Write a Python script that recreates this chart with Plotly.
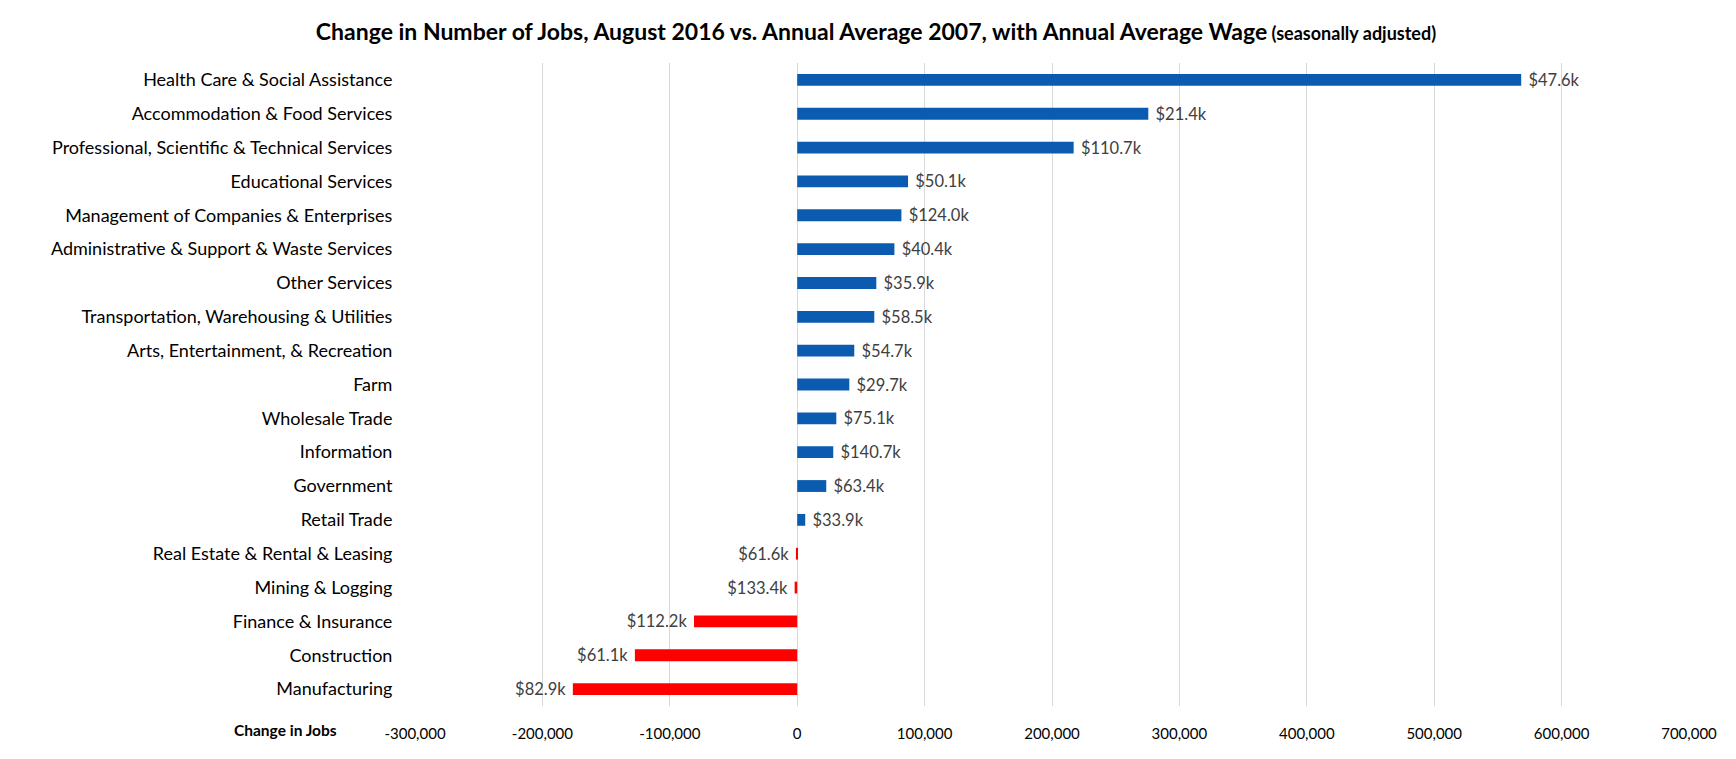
import plotly.graph_objects as go

categories = [
    "Health Care & Social Assistance",
    "Accommodation & Food Services",
    "Professional, Scientific & Technical Services",
    "Educational Services",
    "Management of Companies & Enterprises",
    "Administrative & Support & Waste Services",
    "Other Services",
    "Transportation, Warehousing & Utilities",
    "Arts, Entertainment, & Recreation",
    "Farm",
    "Wholesale Trade",
    "Information",
    "Government",
    "Retail Trade",
    "Real Estate & Rental & Leasing",
    "Mining & Logging",
    "Finance & Insurance",
    "Construction",
    "Manufacturing",
]
job_change = [568300, 275600, 217000, 87000, 81800, 76300, 62100, 60500, 44800,
              40900, 30700, 28300, 22800, 6300, -1000, -2000, -81000, -127400, -176100]
wage_labels = ["$47.6k", "$21.4k", "$110.7k", "$50.1k", "$124.0k", "$40.4k", "$35.9k",
               "$58.5k", "$54.7k", "$29.7k", "$75.1k", "$140.7k", "$63.4k", "$33.9k",
               "$61.6k", "$133.4k", "$112.2k", "$61.1k", "$82.9k"]
x_tickvals = [-300000, -200000, -100000, 0, 100000, 200000, 300000, 400000, 500000, 600000, 700000]
x_ticktext = ["-300,000", "-200,000", "-100,000", "0", "100,000", "200,000", "300,000",
              "400,000", "500,000", "600,000", "700,000"]

colors = ["#0B5CB0" if v >= 0 else "#FF0000" for v in job_change]
# small padding between bar end and wage label
shown_text = [("\u00a0" + t) if v >= 0 else (t + "\u00a0") for t, v in zip(wage_labels, job_change)]

FONT = "Lato, Open Sans, sans-serif"

fig = go.Figure(go.Bar(
    x=job_change, y=categories, orientation="h",
    marker=dict(color=colors, line=dict(width=0)),
    width=0.35,
    text=shown_text, textposition="outside", constraintext="none",
    textfont=dict(family=FONT, size=16.5, color="#404040"),
    cliponaxis=False,
    hoverinfo="x+y",
))

fig.update_layout(
    width=1736, height=759,
    paper_bgcolor="white", plot_bgcolor="white",
    margin=dict(l=407, r=55, t=55, b=61, autoexpand=False),
    showlegend=False,
    font=dict(family=FONT, color="#000000"),
    title=dict(
        text="<b>Change in Number of Jobs, August 2016 vs. Annual Average 2007, with Annual Average Wage</b>"
             "<span style='font-size:18px'><b> (seasonally adjusted)</b></span>",
        x=0.5, xanchor="center", y=1 - 24 / 759, yanchor="middle",
        font=dict(family=FONT, size=23, color="#000000"),
    ),
    xaxis=dict(
        range=[-300000, 700000], tickvals=x_tickvals, ticktext=x_ticktext,
        showgrid=True, gridcolor="#D9D9D9", gridwidth=1,
        zeroline=False, showline=False, automargin=False,
        ticks="outside", ticklen=14, tickcolor="rgba(0,0,0,0)",
        tickfont=dict(family=FONT, size=15, color="#000000"),
    ),
    yaxis=dict(
        autorange="reversed", showgrid=False, zeroline=False, showline=False,
        automargin=False,
        ticks="outside", ticklen=18, tickcolor="rgba(0,0,0,0)",
        tickfont=dict(family=FONT, size=18, color="#000000"),
    ),
    annotations=[dict(
        text="<b>Change in Jobs</b>", xref="paper", yref="paper",
        x=-0.06, y=-24 / 643, xanchor="right", yanchor="middle", showarrow=False,
        font=dict(family=FONT, size=15.5, color="#000000"),
    )],
)

fig.write_html("out.html")
